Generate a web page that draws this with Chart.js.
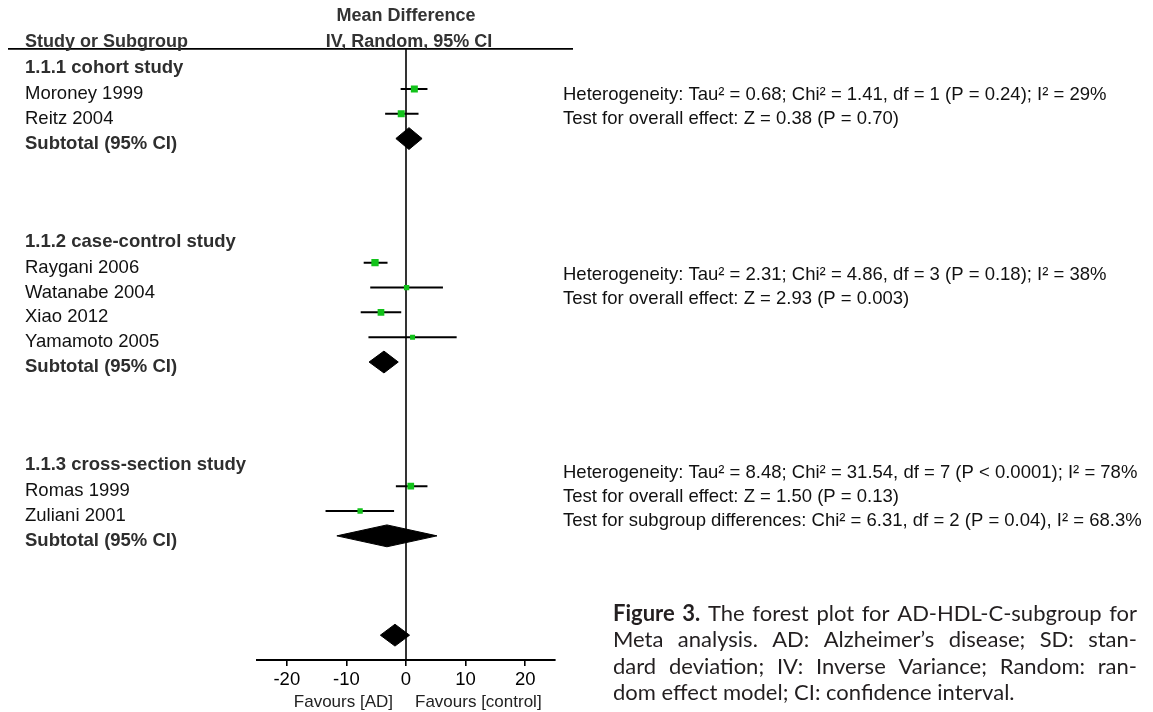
<!DOCTYPE html>
<html>
<head>
<meta charset="utf-8">
<script src="https://cdn.jsdelivr.net/npm/chart.js@4"></script>
<style>
  html, body { margin: 0; padding: 0; background: #fff; }
  #wrap { width: 1153px; height: 712px; position: relative; }
</style>
</head>
<body>
<div id="wrap"><canvas id="c" width="1153" height="712"></canvas></div>
<script>
// ---------- data ----------
const studies = ["Moroney 1999", "Reitz 2004", "Raygani 2006", "Watanabe 2004", "Xiao 2012", "Yamamoto 2005", "Romas 1999", "Zuliani 2001"];
const studyMD = [1.4, -0.8, -5.2, 0.1, -4.2, 1.1, 0.8, -7.7];
const studyLow = [-0.9, -3.5, -7.1, -6.0, -7.6, -6.3, -1.7, -13.5];
const studyHigh = [3.6, 2.1, -3.1, 6.2, -0.8, 8.5, 3.6, -2.0];
const studyWeightBox = [7, 7, 7.3, 5.3, 6.7, 5, 6.7, 5.3];
const studyRows = [3, 4, 10, 11, 12, 13, 19, 20];

const groups = ["1.1.1 cohort study", "1.1.2 case-control study", "1.1.3 cross-section study"];
const groupRows = [2, 9, 18];
const subtotalLabel = "Subtotal (95% CI)";
const subtotalRows = [5, 14, 21];
const subtotalMD = [0.5, -3.7, -3.2];
const subtotalLow = [-1.7, -6.2, -11.6];
const subtotalHigh = [2.7, -1.3, 5.2];

const overallRow = 25;
const overallMD = -1.85;
const overallLow = -4.3;
const overallHigh = 0.6;

const xTicks = [-20, -10, 0, 10, 20];
const xMin = -25, xMax = 25;

const statsBlocks = [
  ["Heterogeneity: Tau² = 0.68; Chi² = 1.41, df = 1 (P = 0.24); I² = 29%",
   "Test for overall effect: Z = 0.38 (P = 0.70)"],
  ["Heterogeneity: Tau² = 2.31; Chi² = 4.86, df = 3 (P = 0.18); I² = 38%",
   "Test for overall effect: Z = 2.93 (P = 0.003)"],
  ["Heterogeneity: Tau² = 8.48; Chi² = 31.54, df = 7 (P < 0.0001); I² = 78%",
   "Test for overall effect: Z = 1.50 (P = 0.13)",
   "Test for subgroup differences: Chi² = 6.31, df = 2 (P = 0.04), I² = 68.3%"]
];
const statsRows = [[3.05, 4.0], [10.3, 11.27], [18.27, 19.24, 20.2]];

const headerLeft = "Study or Subgroup";
const headerTop = "Mean Difference";
const headerSub = "IV, Random, 95% CI";
const favourLeft = "Favours [AD]";
const favourRight = "Favours [control]";

const captionLines = [
  [["Figure 3.", true], ["The forest plot for AD-HDL-C-subgroup for", false]],
  [["Meta analysis. AD: Alzheimer’s disease; SD: stan-", false]],
  [["dard deviation; IV: Inverse Variance; Random: ran-", false]],
  [["dom effect model; CI: confidence interval.", false]]
];

// ---------- styles ----------
const GREEN = "#12c21a";
const DIAMOND_HALF = 0.44;   // rows
const NULL_TOP_ROW = 1.39;
const LBL = "'Liberation Sans', Arial, sans-serif";
const CAP = "Lato, 'Liberation Sans', sans-serif";
const CAP_SIZE = 22;

// ---------- datasets ----------
const datasets = [];
datasets.push({
  order: 3,
  data: [{x: 0, y: NULL_TOP_ROW}, {x: 0, y: 26}],
  showLine: true, borderColor: "#000", borderWidth: 1.6, pointRadius: 0
});
studies.forEach((s, i) => {
  datasets.push({
    order: 2,
    data: [{x: studyLow[i], y: studyRows[i]}, {x: studyHigh[i], y: studyRows[i]}],
    showLine: true, borderColor: "#000", borderWidth: 2, pointRadius: 0
  });
});
datasets.push({
  order: 0,
  data: studies.map((s, i) => ({x: studyMD[i], y: studyRows[i]})),
  showLine: false, pointStyle: "rect",
  pointRadius: studyWeightBox.map(w => w / Math.SQRT2),
  backgroundColor: GREEN, borderColor: GREEN, borderWidth: 0
});
function diamond(lo, md, hi, r) {
  return {
    order: 1,
    data: [{x: lo, y: r}, {x: md, y: r - DIAMOND_HALF}, {x: hi, y: r}, {x: md, y: r + DIAMOND_HALF}, {x: lo, y: r}],
    showLine: true, fill: "shape", tension: 0,
    backgroundColor: "#000", borderColor: "#000", borderWidth: 1, pointRadius: 0
  };
}
subtotalRows.forEach((r, i) => datasets.push(diamond(subtotalLow[i], subtotalMD[i], subtotalHigh[i], r)));
datasets.push(diamond(overallLow, overallMD, overallHigh, overallRow));

// ---------- text plugin ----------
const textPlugin = {
  id: "forestText",
  afterDraw(chart) {
    const ctx = chart.ctx;
    const xs = chart.scales.x, ys = chart.scales.y;
    const x0 = xs.getPixelForValue(0);
    const rowY = r => ys.getPixelForValue(r);
    ctx.save();
    // header rule
    const ruleY = rowY(NULL_TOP_ROW);
    ctx.strokeStyle = "#000"; ctx.lineWidth = 1.6;
    ctx.beginPath(); ctx.moveTo(8, ruleY); ctx.lineTo(573, ruleY); ctx.stroke();

    ctx.textBaseline = "alphabetic";
    ctx.fillStyle = "#333";
    ctx.font = "bold 18px " + LBL;
    ctx.textAlign = "left";
    ctx.fillText(headerLeft, 25, ruleY - 1.5);
    ctx.textAlign = "center";
    ctx.fillText(headerSub, x0 + 3, ruleY - 1.5);
    ctx.fillText(headerTop, x0, ruleY - 28);

    // left labels
    ctx.textAlign = "left";
    ctx.textBaseline = "middle";
    const off = 5;
    ctx.font = "bold 18.5px " + LBL;
    ctx.fillStyle = "#2e2e2e";
    groups.forEach((g, i) => ctx.fillText(g, 25, rowY(groupRows[i]) + off - 1));
    subtotalRows.forEach(r => ctx.fillText(subtotalLabel, 25, rowY(r) + off));
    ctx.font = "18.5px " + LBL;
    ctx.fillStyle = "#111";
    studies.forEach((s, i) => ctx.fillText(s, 25, rowY(studyRows[i]) + off));

    // stats text
    ctx.font = "18.5px " + LBL;
    ctx.fillStyle = "#111";
    statsBlocks.forEach((blk, b) => blk.forEach((line, k) => {
      ctx.fillText(line, 563, rowY(statsRows[b][k]) + off);
    }));

    // favours labels
    const axisBottom = chart.chartArea.bottom;
    ctx.font = "17px " + LBL;
    ctx.fillStyle = "#222";
    ctx.textAlign = "right";
    ctx.fillText(favourLeft, x0 - 13, axisBottom + 42);
    ctx.textAlign = "left";
    ctx.fillText(favourRight, x0 + 9, axisBottom + 42);

    // caption (justified)
    const capX = 613, capW = 524, capY0 = 614, capLH = 26.4;
    ctx.fillStyle = "#231f20";
    ctx.textAlign = "left";
    captionLines.forEach((segs, li) => {
      const words = [];
      segs.forEach(([t, bold]) => t.split(" ").forEach(w => words.push({w, bold})));
      const widths = words.map(o => { ctx.font = (o.bold ? "bold " : "") + CAP_SIZE + "px " + CAP; return ctx.measureText(o.w).width; });
      const total = widths.reduce((a, b) => a + b, 0);
      const justify = li < captionLines.length - 1;
      ctx.font = CAP_SIZE + "px " + CAP;
      const gap = justify ? (capW - total) / (words.length - 1) : ctx.measureText(" ").width;
      let cx = capX;
      const y = capY0 + li * capLH;
      words.forEach((o, k) => {
        ctx.font = (o.bold ? "bold " : "") + CAP_SIZE + "px " + CAP;
        ctx.fillText(o.w, cx, y);
        cx += widths[k] + gap;
      });
    });
    ctx.restore();
  }
};

new Chart(document.getElementById("c"), {
  type: "scatter",
  data: { datasets },
  options: {
    responsive: false,
    animation: false,
    layout: { padding: { left: 257, right: 598, top: 14.4, bottom: 0 } },
    plugins: { legend: { display: false }, tooltip: { enabled: false } },
    scales: {
      x: {
        type: "linear", min: xMin, max: xMax,
        afterBuildTicks: s => { s.ticks = xTicks.map(v => ({ value: v })); },
        afterFit: s => { s.height = 52; },
        grid: { display: true, drawOnChartArea: false, drawTicks: true, tickLength: 6, color: "#000", lineWidth: 1.6 },
        border: { display: true, color: "#000", width: 2 },
        ticks: { color: "#000", font: { family: "'Liberation Sans', Arial, sans-serif", size: 18.5 }, padding: 3, maxRotation: 0, autoSkip: false }
      },
      y: { type: "linear", reverse: true, min: 0, max: 26, display: false }
    }
  },
  plugins: [textPlugin]
});
</script>
</body>
</html>
